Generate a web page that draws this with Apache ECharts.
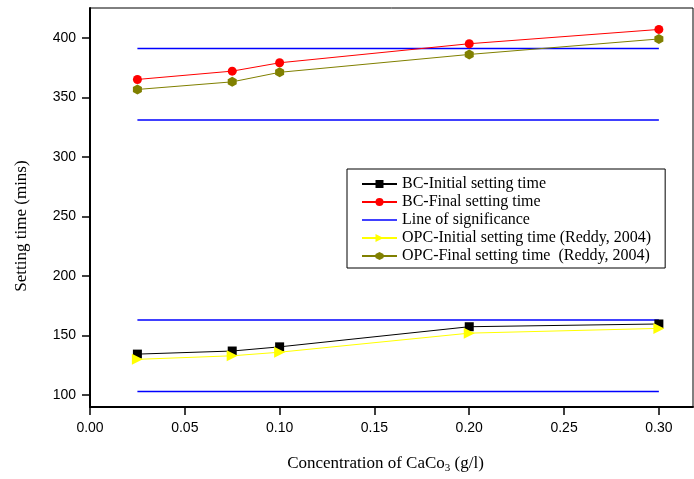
<!DOCTYPE html>
<html>
<head>
<meta charset="utf-8">
<script src="https://cdn.jsdelivr.net/npm/echarts@6/dist/echarts.min.js"></script>
<style>html,body{margin:0;padding:0;background:#fff}#c{width:694px;height:479px}</style>
</head>
<body>
<div id="c"></div>
<script>
const concentration = [0.025, 0.075, 0.1, 0.2, 0.3];
const bcInitial = [134.4, 137, 140.5, 157.4, 159.7];
const bcFinal = [365, 372, 379, 395, 407];
const opcInitial = [130, 133, 136, 152, 156];
const opcFinal = [356.6, 363, 371, 386, 399];
const significanceX = [0.025, 0.3];
const significanceLevels = [391, 331, 163, 103];
const xTicks = [0, 0.05, 0.10, 0.15, 0.20, 0.25, 0.30];
const yTicks = [100, 150, 200, 250, 300, 350, 400];

const pair = (xs, ys) => xs.map((x, i) => [x, ys[i]]);
const hexagon = 'path://M0,-1 L0.866,-0.5 L0.866,0.5 L0,1 L-0.866,0.5 L-0.866,-0.5 Z';
const lineIcon = 'path://M0,0 L35,0 L35,1.3 L0,1.3 Z';
const serif = '"Liberation Serif", "DejaVu Serif", serif';
const sans = '"Liberation Sans", Arial, sans-serif';
const BLUE = '#0000ff';

const series = [
  {name: 'BC-Initial setting time', type: 'line', data: pair(concentration, bcInitial),
   symbol: 'rect', symbolSize: 9, itemStyle: {color: '#000'}, lineStyle: {color: '#000', width: 1}, z: 3},
  {name: 'BC-Final setting time', type: 'line', data: pair(concentration, bcFinal),
   symbol: 'circle', symbolSize: 9, itemStyle: {color: '#ff0000'}, lineStyle: {color: '#ff0000', width: 1}, z: 3}
];
significanceLevels.forEach(v => {
  series.push({name: 'Line of significance', type: 'line', data: significanceX.map(x => [x, v]),
    symbol: 'none', color: BLUE, itemStyle: {color: BLUE}, lineStyle: {color: BLUE, width: 1.4}, z: 2});
});
series.push(
  {name: 'OPC-Initial setting time (Reddy, 2004)', type: 'line', data: pair(concentration, opcInitial),
   symbol: 'triangle', symbolRotate: -90, symbolSize: 11, itemStyle: {color: '#ffff00'}, lineStyle: {color: '#ffff00', width: 1}, z: 4},
  {name: 'OPC-Final setting time  (Reddy, 2004)', type: 'line', data: pair(concentration, opcFinal),
   symbol: hexagon, symbolSize: [9, 10], itemStyle: {color: '#808000'}, lineStyle: {color: '#808000', width: 1}, z: 4}
);

const chart = echarts.init(document.getElementById('c'), null, {renderer: 'canvas'});
chart.setOption({
  animation: false,
  backgroundColor: '#fff',
  grid: {left: 90, right: 1, top: 8, bottom: 65, show: true, borderColor: '#000', borderWidth: 1, containLabel: false},
  graphic: [{
    type: 'text', x: 22, y: 226, rotation: Math.PI / 2,
    style: {text: 'Setting time (mins)', fontFamily: serif, fontSize: 17, fill: '#000',
      align: 'center', verticalAlign: 'middle'}
  }],
  legend: {
    left: 347, top: 169, orient: 'vertical',
    data: ['BC-Initial setting time', 'BC-Final setting time',
           {name: 'Line of significance', icon: lineIcon},
           'OPC-Initial setting time (Reddy, 2004)', 'OPC-Final setting time  (Reddy, 2004)'],
    itemWidth: 35, itemHeight: 10, itemGap: 2, symbolKeepAspect: true,
    padding: [7, 14, 4, 14],
    borderColor: '#000', borderWidth: 1, backgroundColor: '#fff',
    textStyle: {fontFamily: serif, fontSize: 16, lineHeight: 16, color: '#000'}
  },
  xAxis: {
    type: 'value', min: 0, max: 0.318,
    name: 'Concentration of CaCo{sub|3} (g/l)', nameLocation: 'middle', nameGap: 47,
    nameTextStyle: {fontFamily: serif, fontSize: 17, color: '#000', padding: [0, 12, 0, 0],
      rich: {sub: {fontFamily: serif, fontSize: 11, verticalAlign: 'bottom', padding: [9, 0, 0, 0]}}},
    axisLine: {show: true, lineStyle: {color: '#000', width: 2}},
    axisTick: {show: true, length: 8, lineStyle: {color: '#000', width: 1.5}, customValues: xTicks},
    axisLabel: {customValues: xTicks, formatter: v => v.toFixed(2), margin: 14,
      fontFamily: sans, fontSize: 14, color: '#000'},
    splitLine: {show: false}
  },
  yAxis: {
    type: 'value', min: 90, max: 425,
    axisLine: {show: true, lineStyle: {color: '#000', width: 2}},
    axisTick: {show: true, length: 8, lineStyle: {color: '#000', width: 1.5}, customValues: yTicks},
    axisLabel: {customValues: yTicks, margin: 14, fontFamily: sans, fontSize: 14, color: '#000'},
    splitLine: {show: false}
  },
  series: series
});
</script>
</body>
</html>
